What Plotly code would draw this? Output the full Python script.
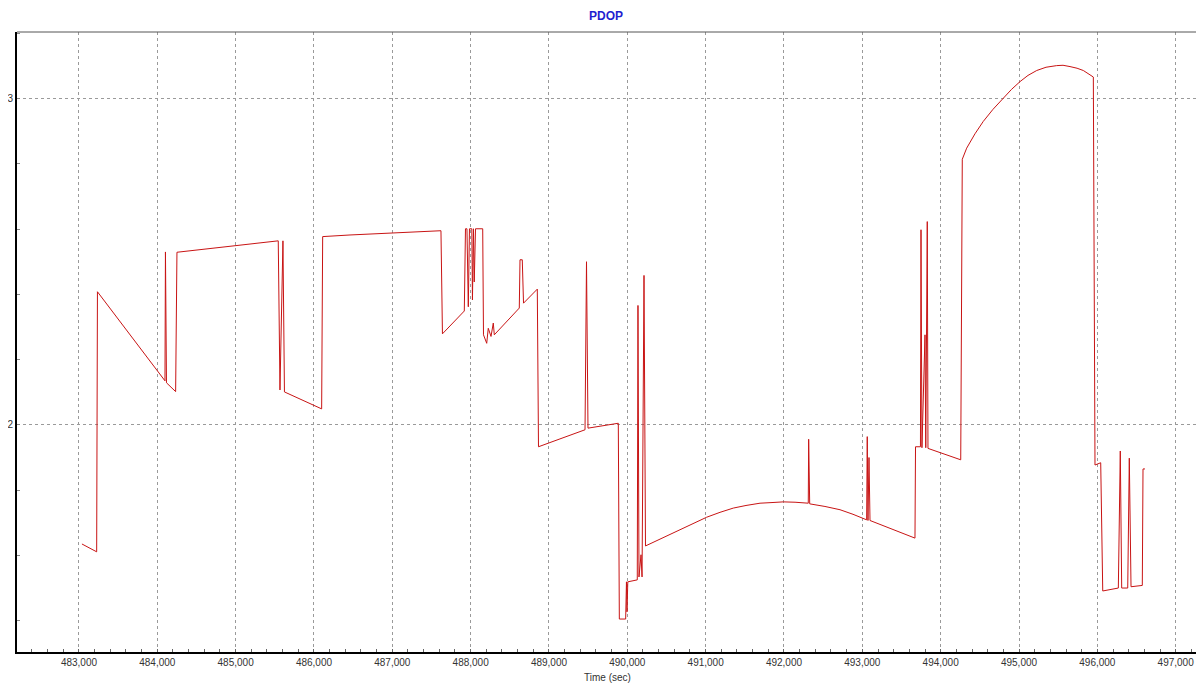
import plotly.graph_objects as go

# PDOP time series
time_sec = [
    483038, 483226, 483236, 484098, 484104, 484117, 484234, 484251, 485544, 485566,
    485604, 485623, 486098, 486111, 486460, 487621, 487640, 487919, 487934, 487953,
    487970, 487985, 488015, 488023, 488036, 488046, 488062, 488154, 488164, 488205,
    488225, 488260, 488289, 488302, 488621, 488630, 488659, 488675, 488851, 488866,
    489140, 489460, 489479, 489498, 489885, 489898, 489979, 489989, 489996, 490006,
    490127, 490136, 490149, 490175, 490188, 490213, 490232, 490417, 490587, 490800,
    491013, 491183, 491353, 491515, 491694, 491847, 491991, 492141, 492310, 492315,
    492328, 492523, 492715, 492881, 493055, 493063, 493072, 493085, 493098, 493672,
    493679, 493742, 493749, 493761, 493800, 493810, 493829, 493838, 494256, 494276,
    494332, 494438, 494544, 494668, 494800, 494904, 495013, 495115, 495226, 495345,
    495481, 495562, 495651, 495741, 495821, 495894, 495949, 495970, 496043, 496069,
    496268, 496293, 496311, 496388, 496408, 496430, 496574, 496583, 496608,
]
pdop = [
    1.635, 1.611, 2.408, 2.135, 2.530, 2.129, 2.102, 2.529, 2.564, 2.107,
    2.564, 2.101, 2.049, 2.577, 2.582, 2.595, 2.279, 2.349, 2.601, 2.601,
    2.362, 2.601, 2.601, 2.383, 2.601, 2.438, 2.601, 2.601, 2.276, 2.250,
    2.296, 2.271, 2.312, 2.276, 2.358, 2.506, 2.506, 2.373, 2.416, 1.933,
    1.957, 1.985, 2.500, 1.990, 2.005, 1.405, 1.405, 1.519, 1.427, 1.519,
    1.525, 2.366, 1.534, 1.602, 1.534, 2.458, 1.629, 1.650, 1.668, 1.694,
    1.717, 1.732, 1.745, 1.753, 1.760, 1.762, 1.764, 1.763, 1.760, 1.956,
    1.758, 1.750, 1.740, 1.726, 1.709, 1.964, 1.707, 1.900, 1.707, 1.653,
    1.933, 1.933, 2.598, 1.930, 2.276, 1.930, 2.623, 1.928, 1.893, 2.814,
    2.848, 2.892, 2.930, 2.967, 3.001, 3.028, 3.052, 3.071, 3.086, 3.096,
    3.101, 3.102, 3.098, 3.093, 3.086, 3.076, 3.066, 1.877, 1.884, 1.491,
    1.500, 1.920, 1.500, 1.500, 1.898, 1.504, 1.508, 1.865, 1.865,
]

x_ticks = [483000, 484000, 485000, 486000, 487000, 488000, 489000,
           490000, 491000, 492000, 493000, 494000, 495000, 496000, 497000]
y_ticks = [2, 3]

FONT = "Liberation Sans, Arial, sans-serif"
GRID = "#9a9a9a"

fig = go.Figure()
fig.add_trace(go.Scatter(
    x=time_sec, y=pdop, mode="lines",
    line=dict(color="#c81414", width=1),
    hoverinfo="x+y", showlegend=False,
))

# the page body adds an 8px margin, so the figure is sized to 1196x679
fig.update_layout(
    width=1196, height=679,
    margin=dict(l=9, r=6, t=24, b=35, autoexpand=False),
    paper_bgcolor="white", plot_bgcolor="white",
    font=dict(family=FONT, size=10, color="#333333"),
    title=dict(text="<b>PDOP</b>", x=0.5, xanchor="center", y=0.988, yanchor="middle",
               font=dict(family=FONT, size=12, color="#1f1fd0")),
    xaxis=dict(
        range=[482209, 497285], automargin=False,
        tickvals=x_ticks, tickformat=",d",
        showgrid=True, gridcolor=GRID, griddash="3px,3px", gridwidth=1,
        showline=True, linecolor="black", linewidth=2,
        ticks="", zeroline=False,
        minor=dict(dtick=200, tick0=483000, ticks="inside", ticklen=3,
                   tickcolor="#666666", showgrid=False),
        title=dict(text="Time (sec)", font=dict(family=FONT, size=10, color="#333333"),
                   standoff=7),
        tickfont=dict(family=FONT, size=10, color="#333333"),
    ),
    yaxis=dict(
        range=[1.304, 3.204], automargin=False,
        tickvals=y_ticks,
        showgrid=True, gridcolor=GRID, griddash="3px,3px", gridwidth=1,
        showline=True, linecolor="black", linewidth=2,
        ticks="", zeroline=False,
        minor=dict(dtick=0.2, tick0=2, ticks="inside", ticklen=3,
                   tickcolor="#888888", showgrid=False),
        tickfont=dict(family=FONT, size=10, color="#333333"),
    ),
    shapes=[dict(type="line", xref="paper", yref="paper", x0=0, x1=1, y0=1, y1=1,
                 line=dict(color="#555555", width=1))],
)

fig.write_html("out.html")
